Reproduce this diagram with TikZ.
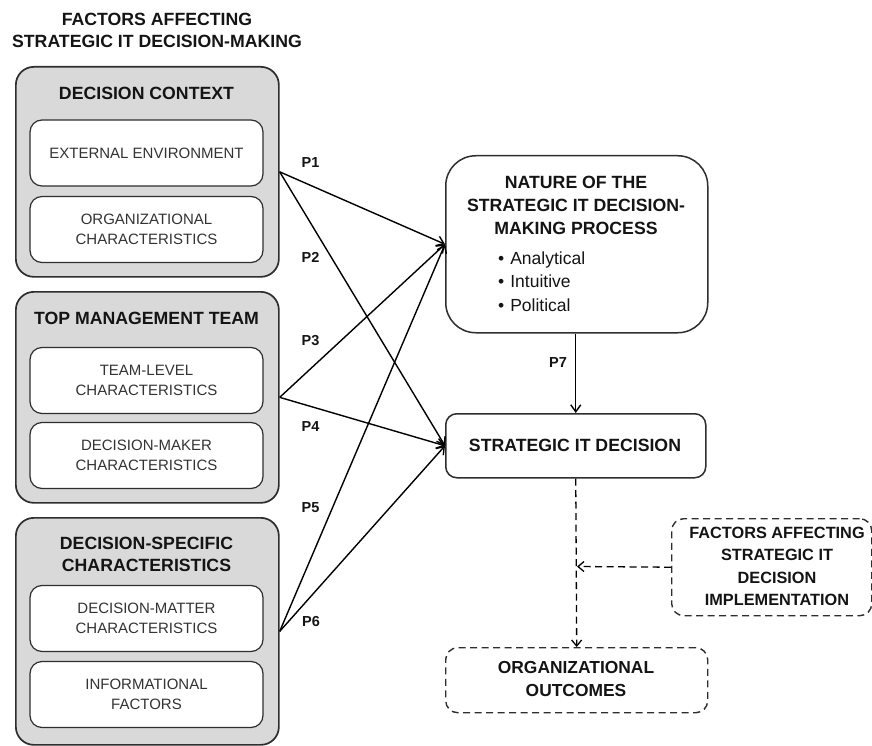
\documentclass[tikz,border=0pt]{standalone}
\usepackage{fontspec}
\setmainfont{Liberation Sans}
\usetikzlibrary{arrows.meta}
\definecolor{grpfill}{HTML}{D9D9D9}
\definecolor{edge}{HTML}{2E2E2E}
\definecolor{txt}{HTML}{141414}
\definecolor{subtxt}{HTML}{333333}
\tikzset{
  group/.style={draw=edge, line width=1.7pt, fill=grpfill, rounded corners=18pt, anchor=north west, inner sep=0pt},
  inner/.style={draw=edge, line width=1.2pt, fill=white, rounded corners=12pt, minimum width=233pt, minimum height=66pt, inner sep=0pt, align=center, text=subtxt, font=\fontsize{15}{20}\selectfont},
  ghead/.style={align=center, text=txt, font=\fontsize{17.7}{22}\selectfont\bfseries, inner sep=0pt},
  mainbox/.style={draw=edge, line width=1.5pt, fill=white, anchor=north west, inner sep=0pt},
  dbox/.style={draw=edge, line width=1.4pt, dash pattern=on 7pt off 4.5pt, rounded corners=12pt, anchor=north west, inner sep=0pt},
  plabel/.style={font=\fontsize{14.5}{17}\selectfont\bfseries, text=txt, inner sep=0pt},
  conn/.style={draw=black, line width=1.4pt, -{Straight Barb[length=7pt,width=10pt,line width=1.4pt]}},
  dconn/.style={draw=black, line width=1.3pt, dash pattern=on 7pt off 4.5pt, -{Straight Barb[length=6pt,width=10pt,line width=1.3pt]}},
}
\begin{document}
\begin{tikzpicture}[x=1pt,y=-1pt]
\useasboundingbox (0,0) rectangle (872,746);

% title
\node[ghead] (title) at (157,30) {FACTORS AFFECTING\\STRATEGIC IT DECISION-MAKING};

% group 1
\node[group, minimum width=263pt, minimum height=210pt] (g1) at (15,66) {};
\node[ghead] (h1) at (146.5,93) {DECISION CONTEXT};
\node[inner] (e1) at (146.5,153) {EXTERNAL ENVIRONMENT};
\node[inner] (o1) at (146.5,229.5) {ORGANIZATIONAL\\CHARACTERISTICS};

% group 2
\node[group, minimum width=263pt, minimum height=211pt] (g2) at (15,291) {};
\node[ghead] (h2) at (146.5,318) {TOP MANAGEMENT TEAM};
\node[inner] (t2) at (146.5,380.5) {TEAM-LEVEL\\CHARACTERISTICS};
\node[inner] (d2) at (146.5,455.5) {DECISION-MAKER\\CHARACTERISTICS};

% group 3
\node[group, minimum width=263pt, minimum height=227pt] (g3) at (15,517) {};
\node[ghead] (h3) at (146.5,554) {DECISION-SPECIFIC\\CHARACTERISTICS};
\node[inner] (m3) at (146.5,618.5) {DECISION-MATTER\\CHARACTERISTICS};
\node[inner] (i3) at (146.5,694.5) {INFORMATIONAL\\FACTORS};

% nature of process
\node[mainbox, rounded corners=30pt, minimum width=262pt, minimum height=177pt] (nat) at (445,155) {};
\node[ghead, font=\fontsize{17.7}{23}\selectfont\bfseries] (nath) at (576,205) {NATURE OF THE\\STRATEGIC IT DECISION-\\MAKING PROCESS};
\node[anchor=west, align=left, inner sep=0pt, text=txt, font=\fontsize{17.5}{23.5}\selectfont] (natb) at (498,281.5) {•\hspace{6pt}Analytical\\•\hspace{6pt}Intuitive\\•\hspace{6pt}Political};

% strategic decision
\node[mainbox, rounded corners=11pt, minimum width=260pt, minimum height=64pt] (dec) at (445,413) {};
\node[ghead] (dect) at (575,445) {STRATEGIC IT DECISION};

% factors implementation
\node[dbox, minimum width=200pt, minimum height=97pt] (fac) at (671,518) {};
\node[ghead, font=\fontsize{16.3}{22.4}\selectfont\bfseries] (fact) at (777,566.5) {FACTORS AFFECTING\\STRATEGIC IT\\DECISION\\IMPLEMENTATION};

% outcomes
\node[dbox, minimum width=262pt, minimum height=65pt] (out) at (445,647) {};
\node[ghead, font=\fontsize{17.4}{23}\selectfont\bfseries] (outt) at (576,679) {ORGANIZATIONAL\\OUTCOMES};

% connectors
\draw[conn] (g1.east) -- (nat.west);
\draw[conn] (g1.east) -- (dec.west);
\draw[conn] (g2.east) -- (nat.west);
\draw[conn] (g2.east) -- (dec.west);
\draw[conn] (g3.east) -- (nat.west);
\draw[conn] (g3.east) -- (dec.west);
\draw[conn] (nat.south -| dec.north) -- (dec.north);

\draw[dconn] (dec.south) -- (out.north);
\coordinate (mid) at (577,566.5);
\draw[dconn] (fac.west) -- (mid);

% labels
\node[plabel] (p1) at (310.5,163) {P1};
\node[plabel] (p2) at (310.5,257) {P2};
\node[plabel] (p3) at (310.5,341) {P3};
\node[plabel] (p4) at (310.5,427) {P4};
\node[plabel] (p5) at (310.5,508) {P5};
\node[plabel] (p6) at (311,622) {P6};
\node[plabel] (p7) at (558,363) {P7};
\end{tikzpicture}
\end{document}
